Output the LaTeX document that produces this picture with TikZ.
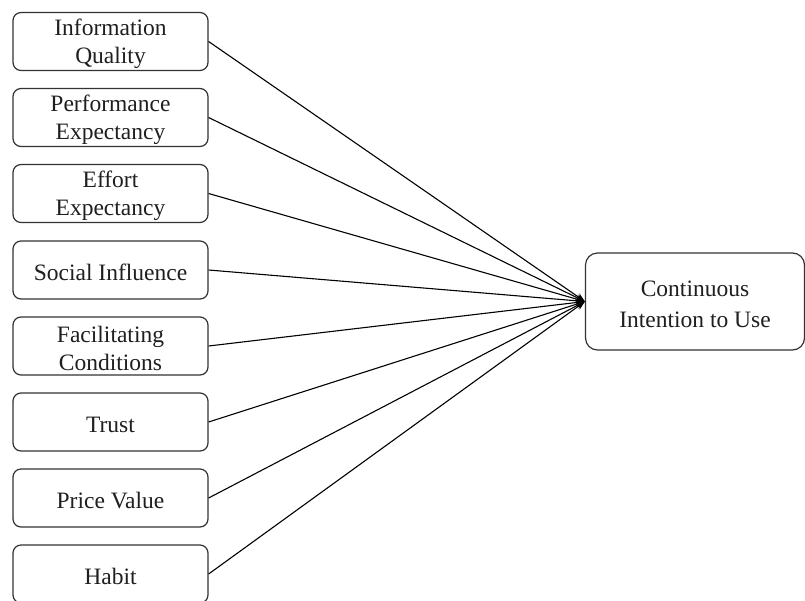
\documentclass[tikz,border=0pt]{standalone}
\usepackage{fontspec}
\setmainfont{Liberation Serif}
\usetikzlibrary{arrows.meta}
\begin{document}
\begin{tikzpicture}[x=1pt,y=-1pt,
  factor/.style={draw=black!80, line width=1.2pt, rounded corners=8pt, minimum width=195pt, minimum height=58pt, inner sep=0pt},
  lbl/.style={font=\fontsize{23.5}{28}\selectfont, align=center, text=black!88, inner sep=0pt, yshift=-2.5pt},
  tlbl/.style={font=\fontsize{23.5}{31}\selectfont, align=center, text=black!88, inner sep=0pt, yshift=-3pt},
  target/.style={draw=black!80, line width=1.2pt, rounded corners=12pt, minimum width=219pt, minimum height=97pt, inner sep=0pt},
  link/.style={line width=1.1pt, -{Stealth[length=9pt,width=7pt]}}]
\clip (0,0) rectangle (805,600);
\useasboundingbox (0,0) rectangle (805,600);
\fill[white] (0,0) rectangle (805,600);
\node[factor, label={[lbl]center:Information\\Quality}] (iq) at (110.5,41.5) {};
\node[factor, label={[lbl]center:Performance\\Expectancy}] (pe) at (110.5,117.5) {};
\node[factor, label={[lbl]center:Effort\\Expectancy}] (ee) at (110.5,193.5) {};
\node[factor, label={[lbl]center:Social Influence}] (si) at (110.5,270) {};
\node[factor, label={[lbl]center:Facilitating\\Conditions}] (fc) at (110.5,346) {};
\node[factor, label={[lbl]center:Trust}] (tr) at (110.5,422) {};
\node[factor, label={[lbl]center:Price Value}] (pv) at (110.5,498) {};
\node[factor, label={[lbl]center:Habit}] (hb) at (110.5,574) {};
\node[target, label={[tlbl]center:Continuous\\Intention to Use}] (ci) at (695,301.5) {};
\foreach \n in {iq,pe,ee,si,fc,tr,pv,hb}
  \draw[link] (\n.east) -- (ci.west);
\end{tikzpicture}
\end{document}
